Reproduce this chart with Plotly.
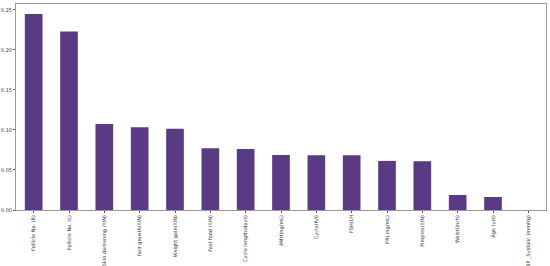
import plotly.graph_objects as go

features = [
    "Follicle No. (R)", "Follicle No. (L)", "Skin darkening (Y/N)", "hair growth(Y/N)",
    "Weight gain(Y/N)", "Fast food (Y/N)", "Cycle length(days)", "AMH(ng/mL)",
    "Cycle(R/I)", "FSH/LH", "PRL(ng/mL)", "Pimples(Y/N)", "Waist(inch)", "Age (yrs)",
    "BP _Systolic (mmHg)",
]
importance = [0.2447, 0.2230, 0.1073, 0.1032, 0.1016, 0.0771, 0.0762, 0.0688,
              0.0684, 0.0684, 0.0613, 0.0609, 0.0187, 0.0162, 0.0]
y_ticks = [0.0, 0.05, 0.10, 0.15, 0.20, 0.25]
y_tick_text = ["0.00", "0.05", "0.10", "0.15", "0.20", "0.25"]

fig = go.Figure(go.Bar(
    x=list(range(len(features))),
    y=importance,
    width=0.5,
    marker=dict(color="#5a3a85", line=dict(width=0)),
))

axis_common = dict(
    showline=True, linecolor="#9a9a9a", linewidth=1, mirror=True,
    showgrid=False, zeroline=False, ticks="outside", ticklen=2,
    tickcolor="#555555", automargin=False,
    tickfont=dict(family="DejaVu Sans", size=5, color="#333333"),
)

fig.update_layout(
    width=550, height=266,
    margin=dict(l=16, r=4, t=4, b=56),
    paper_bgcolor="white", plot_bgcolor="white",
    showlegend=False,
    xaxis=dict(
        range=[-0.5, len(features) - 0.5],
        tickmode="array", tickvals=list(range(len(features))), ticktext=features,
        tickangle=-90, **axis_common,
    ),
    yaxis=dict(
        range=[0, 0.2572],
        tickmode="array", tickvals=y_ticks, ticktext=y_tick_text,
        **axis_common,
    ),
)

fig.write_html("out.html")
